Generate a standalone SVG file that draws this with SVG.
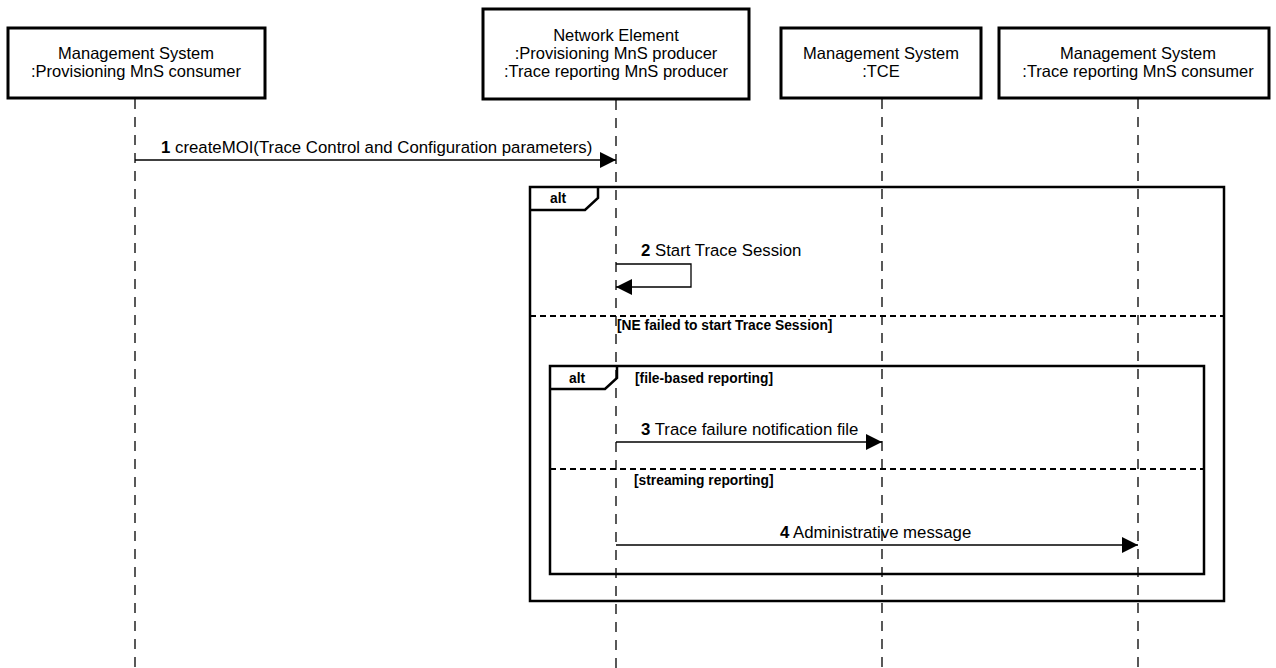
<svg xmlns="http://www.w3.org/2000/svg" width="1276" height="668" viewBox="0 0 1276 668">
<defs>
<style>
.box{fill:#fff;stroke:#000;stroke-width:3}
.t{font-family:"Liberation Sans",Arial,sans-serif;font-size:16.5px;fill:#000;text-anchor:middle}
.m{font-family:"Liberation Sans",Arial,sans-serif;font-size:16.8px;fill:#000}
.g{font-family:"Liberation Sans",Arial,sans-serif;font-size:13.8px;font-weight:bold;fill:#000}
.life{stroke:#000;stroke-width:1.3;stroke-dasharray:10,8;fill:none}
.msg{stroke:#000;stroke-width:1.3;fill:none;marker-end:url(#arr)}
.frame{fill:none;stroke:#000;stroke-width:2.5}
.sep{stroke:#000;stroke-width:2;stroke-dasharray:6,4}
</style>
<marker id="arr" viewBox="0 0 16 16" refX="16" refY="8" markerWidth="16" markerHeight="16" markerUnits="userSpaceOnUse" orient="auto">
<path d="M0,0 L16,8 L0,16 Z" fill="#000"/>
</marker>
</defs>
<rect width="1276" height="668" fill="#fff"/>
<g id="lifelines">
<line class="life" x1="135" y1="99" x2="135" y2="668"/>
<line class="life" x1="616" y1="100" x2="616" y2="668"/>
<line class="life" x1="882" y1="99" x2="882" y2="668"/>
<line class="life" x1="1138" y1="99" x2="1138" y2="668"/>
</g>
<g id="p1">
<rect class="box" x="8" y="28" width="257" height="70"/>
<text class="t" x="136" y="59">Management System</text>
<text class="t" x="136" y="77">:Provisioning MnS consumer</text>
</g>
<g id="p2">
<rect class="box" x="483" y="9" width="266" height="90"/>
<text class="t" x="616" y="41">Network Element</text>
<text class="t" x="616" y="59">:Provisioning MnS producer</text>
<text class="t" x="616" y="77">:Trace reporting MnS producer</text>
</g>
<g id="p3">
<rect class="box" x="781" y="28" width="200" height="70"/>
<text class="t" x="881" y="59">Management System</text>
<text class="t" x="881" y="77">:TCE</text>
</g>
<g id="p4">
<rect class="box" x="999" y="28" width="270" height="70"/>
<text class="t" x="1138" y="59">Management System</text>
<text class="t" x="1138" y="77">:Trace reporting MnS consumer</text>
</g>
<g id="frame-outer">
<rect class="frame" x="530" y="187" width="694" height="414"/>
<path class="frame" d="M530,210 H585 L598,198 V187"/>
<text class="g" x="550" y="203">alt</text>
<text class="g" x="617" y="330">[NE failed to start Trace Session]</text>
<line class="sep" x1="530" y1="316" x2="1224" y2="316"/>
</g>
<g id="frame-inner">
<rect class="frame" x="550" y="366" width="654" height="208"/>
<path class="frame" d="M550,389 H605 L617,378 V366"/>
<text class="g" x="569" y="383">alt</text>
<text class="g" x="635" y="383">[file-based reporting]</text>
<line class="sep" x1="550" y1="469" x2="1204" y2="469"/>
<text class="g" x="634" y="485">[streaming reporting]</text>
</g>
<g id="connectors">
<line class="msg" x1="135" y1="160" x2="616" y2="160"/>
<path class="msg" d="M616,264 H691 V287 H616"/>
<line class="msg" x1="616" y1="442" x2="882" y2="442"/>
<line class="msg" x1="616" y1="545" x2="1138" y2="545"/>
</g>
<g id="labels">
<text class="m" x="161" y="153"><tspan font-weight="bold">1</tspan> createMOI(Trace Control and Configuration parameters)</text>
<text class="m" x="641" y="256"><tspan font-weight="bold">2</tspan> Start Trace Session</text>
<text class="m" x="641" y="435"><tspan font-weight="bold">3</tspan> Trace failure notification file</text>
<text class="m" x="780" y="538"><tspan font-weight="bold">4</tspan> Administrative message</text>
</g>
</svg>
